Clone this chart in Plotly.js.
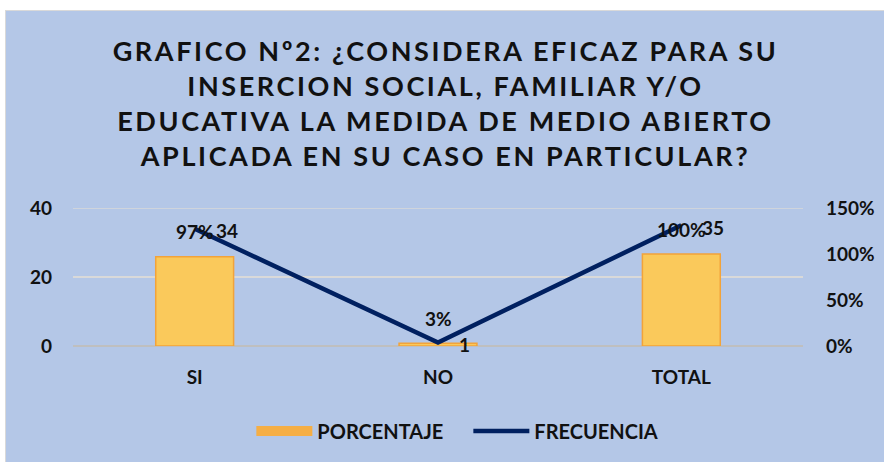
<!DOCTYPE html>
<html>
<head>
<meta charset="utf-8">
<script src="https://cdn.plot.ly/plotly-3.0.1.min.js"></script>
<style>
  html, body { margin: 0; padding: 0; background: #ffffff; }
  #chart { position: absolute; left: 5px; top: 10px; width: 879px; height: 452px; box-sizing: border-box; border-top: 1px solid #D9D9D9; border-left: 1px solid #D9D9D9; }
  .gtitle { letter-spacing: 2.6px; }
</style>
</head>
<body>
<div id="chart"></div>
<script>
// ---- data ----
const categories = ['SI', 'NO', 'TOTAL'];
const porcentaje = [0.97, 0.03, 1.00];
const frecuencia = [34, 1, 35];
const legendNames = ['PORCENTAJE', 'FRECUENCIA'];
const countTicks = [0, 20, 40];
const pctTicks = [0, 0.5, 1, 1.5];
const titleLines = [
  'GRAFICO Nº2: ¿CONSIDERA EFICAZ PARA SU',
  'INSERCION SOCIAL, FAMILIAR Y/O',
  'EDUCATIVA LA MEDIDA DE MEDIO ABIERTO',
  'APLICADA EN SU CASO EN PARTICULAR?'
];

const FONT = 'Lato, "Open Sans", sans-serif';
const bg = '#B4C7E7';
const barFill = '#FAC95B';
const barEdge = '#F2A33A';
const lineColor = '#002060';
const gridColor = '#D9D9D9';

const barTrace = {
  type: 'bar',
  name: legendNames[0],
  x: categories,
  y: porcentaje,
  yaxis: 'y',
  width: 0.32,
  marker: { color: barFill, line: { color: barEdge, width: 1.5 } },
  showlegend: false,
  legendgroup: 'pct',
  hoverinfo: 'skip'
};

// legend key for the bars (a wide swatch like the reference)
const barKey = {
  type: 'scatter', mode: 'lines',
  name: legendNames[0],
  x: [null], y: [null], yaxis: 'y',
  line: { color: '#F5AE45', width: 14 },
  legendgroup: 'pct',
  hoverinfo: 'skip'
};

const lineTrace = {
  type: 'scatter',
  mode: 'lines',
  name: legendNames[1],
  x: categories,
  y: frecuencia,
  yaxis: 'y2',
  line: { color: lineColor, width: 4.5 },
  hoverinfo: 'skip'
};

const labelFont = { family: FONT, size: 19, color: '#111111', weight: 'bold' };
const annotations = [];
categories.forEach((c, i) => {
  annotations.push({
    x: c, y: porcentaje[i], xref: 'x', yref: 'y',
    text: Math.round(porcentaje[i] * 100) + '%',
    showarrow: false, xanchor: 'center', yanchor: 'middle', yshift: 25,
    font: labelFont
  });
  annotations.push({
    x: c, y: frecuencia[i], xref: 'x', yref: 'y2',
    text: String(frecuencia[i]),
    showarrow: false, xanchor: 'left', yanchor: 'middle', xshift: 19, yshift: -2,
    font: labelFont
  });
});

// top gridline (at the upper edge of the range)
const shapes = [{
  type: 'line', xref: 'paper', x0: 0, x1: 1,
  yref: 'y2', y0: countTicks[countTicks.length - 1], y1: countTicks[countTicks.length - 1],
  line: { color: gridColor, width: 1.5 }, layer: 'below'
}];

const layout = {
  width: 879, height: 452,
  paper_bgcolor: bg, plot_bgcolor: bg,
  margin: { l: 67, r: 82, t: 197, b: 117 },
  title: {
    text: titleLines.join('<br>'),
    x: 0.5, xanchor: 'center',
    yref: 'container', y: 1 - 50 / 452, yanchor: 'top',
    font: { family: FONT, size: 27, color: '#111111', weight: 'bold' }
  },
  showlegend: true,
  legend: {
    orientation: 'h', xref: 'container', x: 0.526, xanchor: 'center',
    yref: 'container', y: 1 - 420 / 452, yanchor: 'middle',
    font: { family: FONT, size: 20, color: '#111111', weight: 'bold' },
    itemwidth: 56, traceorder: 'normal', bgcolor: 'rgba(0,0,0,0)',
    entrywidth: 146, entrywidthmode: 'pixels'
  },
  xaxis: {
    type: 'category',
    showgrid: false, zeroline: false, showline: false,
    ticks: '', ticklabelstandoff: 18,
    tickfont: { family: FONT, size: 19, color: '#111111', weight: 'bold' }
  },
  yaxis: {
    side: 'right',
    range: [0, pctTicks[pctTicks.length - 1]], tickvals: pctTicks, tickformat: '.0%',
    showgrid: false, zeroline: false, showline: false,
    ticks: '', ticklabelstandoff: 22,
    tickfont: { family: FONT, size: 19, color: '#111111', weight: 'bold' }
  },
  yaxis2: {
    side: 'left', overlaying: 'y',
    range: [0, countTicks[countTicks.length - 1]], tickvals: countTicks,
    showgrid: true, gridcolor: gridColor, gridwidth: 1.5,
    zeroline: true, zerolinecolor: '#BFBFBF', zerolinewidth: 2.5,
    showline: false, ticks: '', ticklabelstandoff: 20,
    tickfont: { family: FONT, size: 19, color: '#111111', weight: 'bold' }
  },
  shapes: shapes,
  annotations: annotations
};

Plotly.newPlot('chart', [barTrace, barKey, lineTrace], layout, { displayModeBar: false, staticPlot: true });
</script>
</body>
</html>
